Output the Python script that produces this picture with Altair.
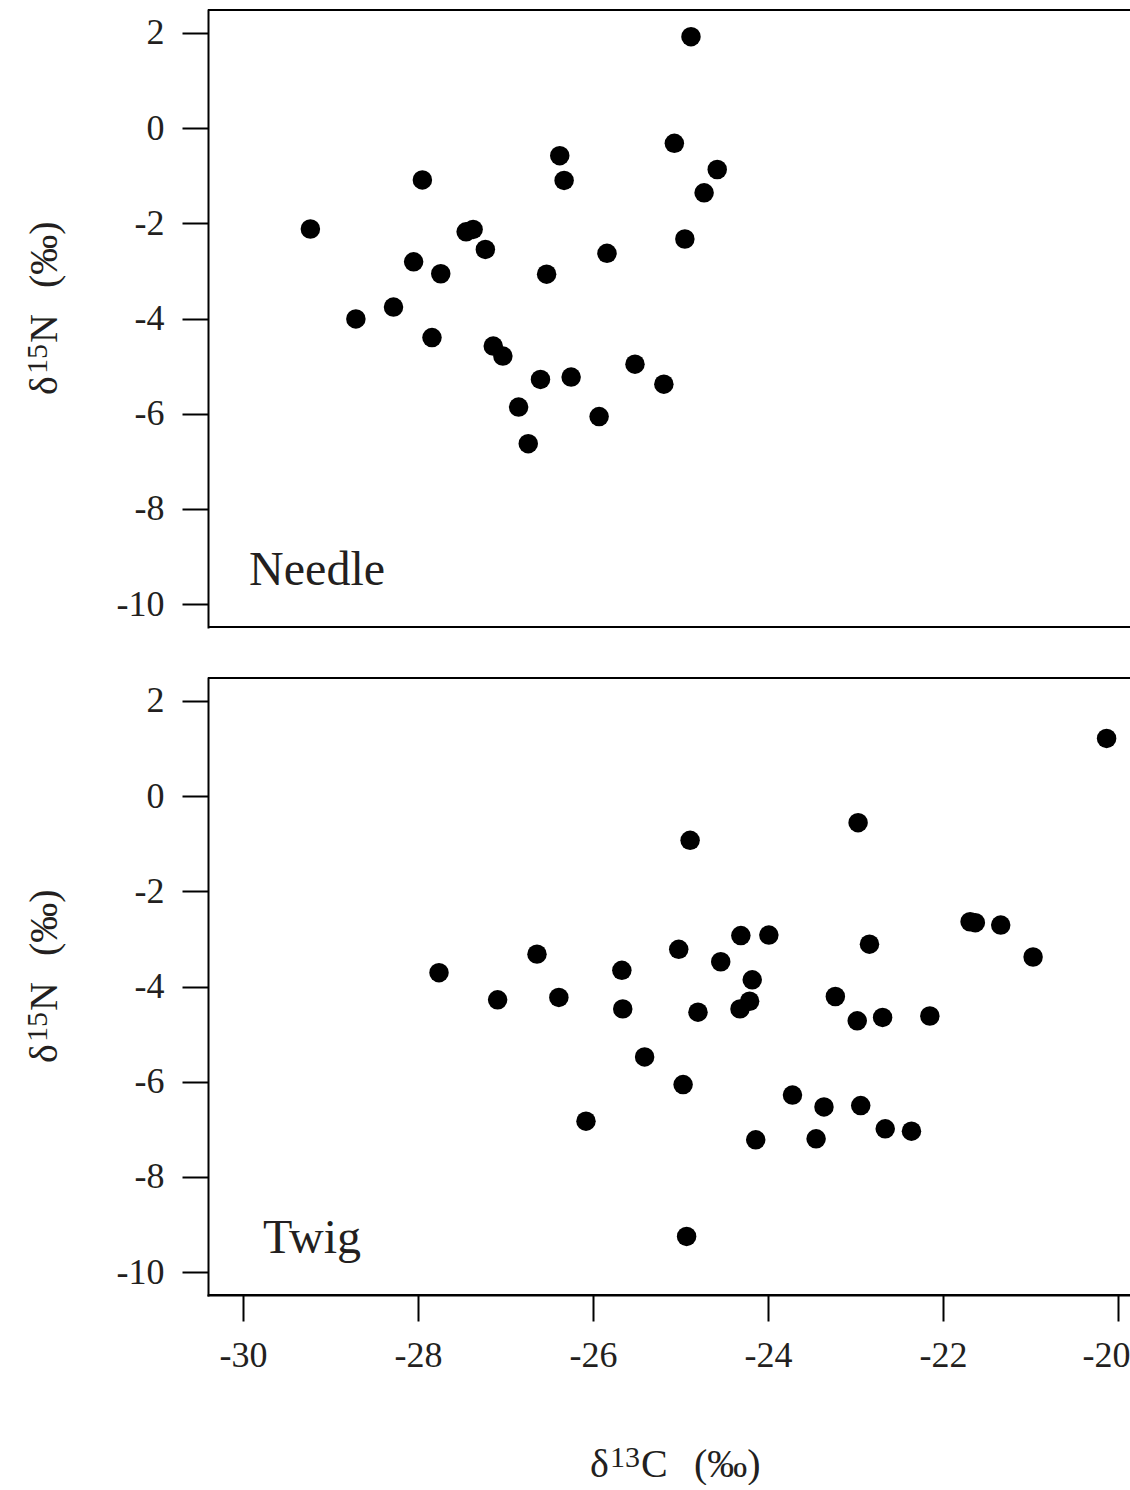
import altair as alt
import pandas as pd

# Stable isotope values (per mil) for the two tissue types
needle_d13c = [-29.23, -28.71, -28.28, -28.05, -27.95, -27.84, -27.74, -27.45, -27.37, -27.23,
               -27.14, -27.03, -26.85, -26.74, -26.60, -26.53, -26.38, -26.33, -26.25, -25.93,
               -25.84, -25.52, -25.19, -25.07, -24.95, -24.88, -24.73, -24.58]
needle_d15n = [-2.12, -4.01, -3.76, -2.81, -1.09, -4.40, -3.06, -2.18, -2.13, -2.55,
               -4.58, -4.79, -5.86, -6.63, -5.28, -3.07, -0.58, -1.10, -5.23, -6.06,
               -2.63, -4.96, -5.38, -0.32, -2.33, 1.92, -1.36, -0.87]

twig_d13c = [-27.76, -27.09, -26.64, -26.39, -26.08, -25.67, -25.66, -25.41, -25.02, -24.97,
             -24.93, -24.89, -24.80, -24.54, -24.32, -24.31, -24.21, -24.18, -24.14, -23.99,
             -23.72, -23.45, -23.36, -23.23, -22.98, -22.97, -22.94, -22.84, -22.69, -22.66,
             -22.36, -22.15, -21.69, -21.63, -21.34, -20.97, -20.13]
twig_d15n = [-3.71, -4.28, -3.32, -4.23, -6.83, -3.66, -4.47, -5.48, -3.22, -6.06,
             -9.25, -0.93, -4.54, -3.48, -4.47, -2.93, -4.31, -3.86, -7.22, -2.92,
             -6.28, -7.20, -6.53, -4.21, -4.72, -0.56, -6.50, -3.11, -4.65, -6.99,
             -7.04, -4.62, -2.64, -2.66, -2.71, -3.38, 1.21]

x_ticks = [-30, -28, -26, -24, -22, -20]
y_ticks = [-10, -8, -6, -4, -2, 0, 2]

X_DOMAIN = [-30.4, -19.851]
Y_DOMAIN = [-10.48, 2.48]
PLOT_W = 923
PLOT_H = 617
FONT = "Liberation Serif"
INK = "#231f20"
HYPHEN_LABEL = "'' + datum.value"
MAIN_SIZE = 40
SUP_SIZE = 30

# Axis titles are set piecewise so the isotope mass number sits as a real superscript:
# (text, font size, x offset, y offset) relative to the panel's plot origin.
Y_TITLE = [("δ", MAIN_SIZE, -151, 385), ("15", SUP_SIZE, -161, 364),
           ("N", MAIN_SIZE, -151, 333), ("(‰)", MAIN_SIZE, -151, 278)]
X_TITLE = [("δ", MAIN_SIZE, 382, 799), ("13", SUP_SIZE, 402, 789),
           ("C", MAIN_SIZE, 433, 799), ("(‰)", MAIN_SIZE, 486, 799)]

x_scale = alt.Scale(domain=X_DOMAIN, nice=False, zero=False)
y_scale = alt.Scale(domain=Y_DOMAIN, nice=False, zero=False)
one_row = pd.DataFrame({"k": [0]})


def y_axis():
    return alt.Axis(
        values=y_ticks, labelExpr=HYPHEN_LABEL, grid=False, title=None,
        labelFont=FONT, labelFontSize=36, labelColor=INK, labelPadding=18,
        tickSize=26, tickWidth=2, tickColor="black",
        domainColor="black", domainWidth=2, domainCap="square",
    )


def x_axis():
    return alt.Axis(
        values=x_ticks, labelExpr=HYPHEN_LABEL, grid=False, title=None,
        labelFont=FONT, labelFontSize=36, labelColor=INK, labelPadding=17,
        # keep the last label inside the page edge
        labelOffset={"condition": {"test": "datum.value == -20", "value": -12}, "value": 0},
        tickSize=26, tickWidth=2, tickColor="black",
        domainColor="black", domainWidth=2, domainCap="square",
    )


def title_text(pieces, angle):
    layers = []
    for text, size, dx, dy in pieces:
        layers.append(
            alt.Chart(one_row).mark_text(
                text=text, font=FONT, fontSize=size, color=INK, angle=angle,
                align="left", baseline="alphabetic",
            ).encode(x=alt.value(dx), y=alt.value(dy))
        )
    return layers


def panel(c13, n15, label, label_x, label_y, with_x_axis):
    df = pd.DataFrame({"d13C": c13, "d15N": n15})
    points = alt.Chart(df).mark_circle(size=380, color="black", opacity=1).encode(
        x=alt.X("d13C:Q", scale=x_scale, axis=x_axis() if with_x_axis else None),
        y=alt.Y("d15N:Q", scale=y_scale, axis=y_axis()),
    )
    top_edge = alt.Chart(one_row).mark_rule(color="black", strokeWidth=2).encode(
        y=alt.datum(Y_DOMAIN[1])
    )
    bottom_edge = alt.Chart(one_row).mark_rule(color="black", strokeWidth=2).encode(
        y=alt.datum(Y_DOMAIN[0])
    )
    tag = alt.Chart(one_row).mark_text(
        text=label, font=FONT, fontSize=48, color=INK, align="left", baseline="alphabetic"
    ).encode(x=alt.datum(label_x), y=alt.datum(label_y))
    layers = [points, top_edge, bottom_edge, tag] + title_text(Y_TITLE, 270)
    if with_x_axis:
        layers += title_text(X_TITLE, 0)
    return alt.layer(*layers).properties(width=PLOT_W, height=PLOT_H)


needle = panel(needle_d13c, needle_d15n, "Needle", -29.93, -9.6, False)
twig = panel(twig_d13c, twig_d15n, "Twig", -29.77, -9.6, True)

# The frame runs off the right edge, so the page is trimmed there.
chart = alt.vconcat(needle, twig, spacing=49).properties(
    padding={"left": 23, "top": 9, "right": -2, "bottom": 0}
).configure_view(stroke=None)

chart.save("out.html", embed_options={"renderer": "svg", "actions": False})
